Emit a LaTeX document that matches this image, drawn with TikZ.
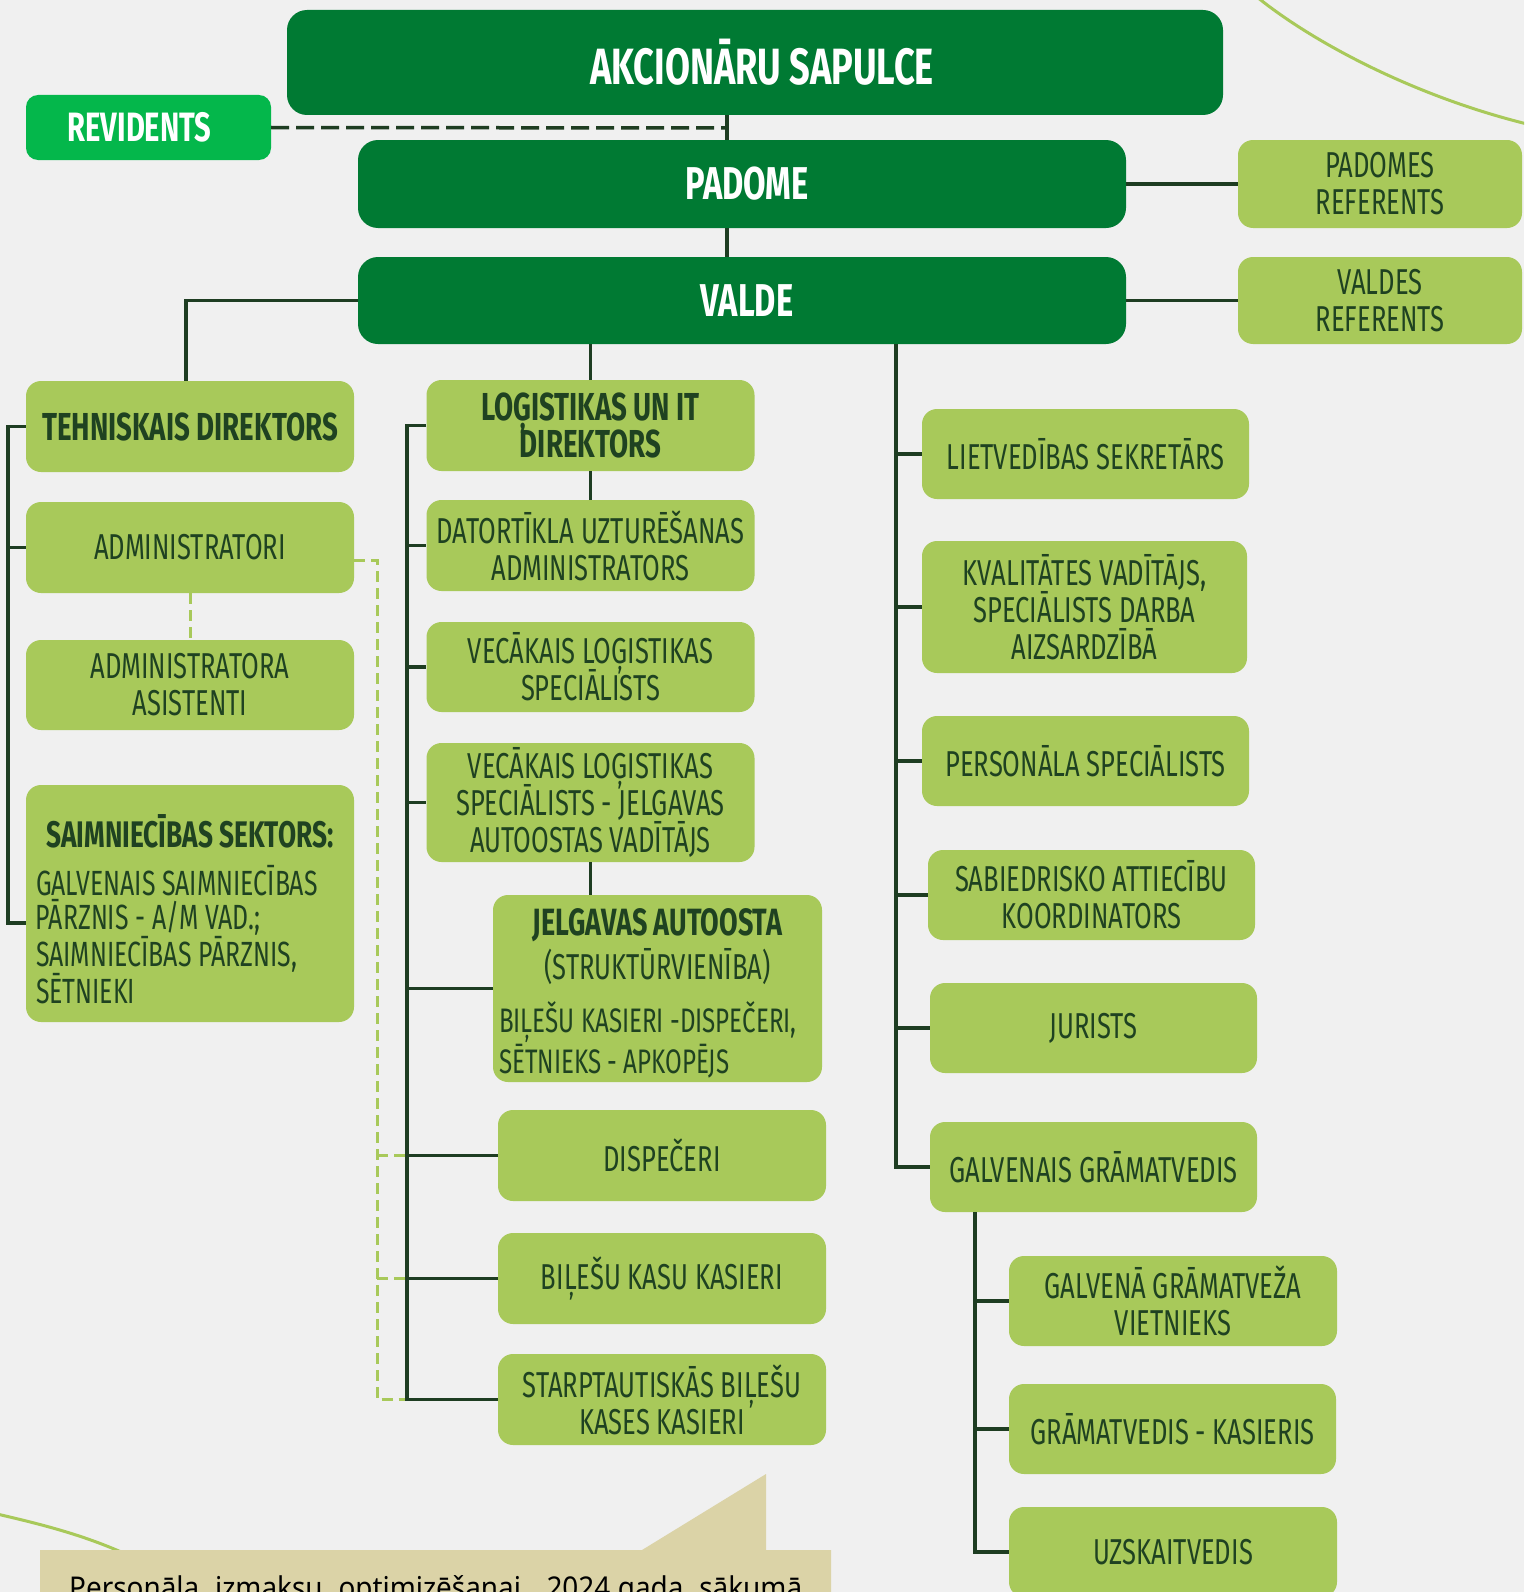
\documentclass[tikz,border=0pt]{standalone}
\usepackage{fontspec}
\usepackage{tikz}
\usetikzlibrary{positioning,calc}
\setmainfont{Fira Sans}[FakeStretch=0.71]
\newfontfamily\notefont{Noto Sans}[FakeStretch=0.93]
\definecolor{bgcol}{HTML}{F0F0F0}
\definecolor{darkgreen}{HTML}{007A33}
\definecolor{revgreen}{HTML}{04B74B}
\definecolor{lightgreen}{HTML}{A8C95A}
\definecolor{inkgreen}{HTML}{1F4221}
\definecolor{linegreen}{HTML}{1E3D22}
\definecolor{beige}{HTML}{DBD3A7}
\setlength{\lineskiplimit}{-40pt}

\begin{document}
\begin{tikzpicture}[
    x=1pt, y=-1pt,
    topbox/.style={rectangle, rounded corners=20pt, fill=darkgreen, text=white,
        font=\fontsize{46}{46}\selectfont\bfseries, inner sep=0pt},
    revbox/.style={rectangle, rounded corners=12pt, fill=revgreen, text=white,
        font=\fontsize{41}{41}\selectfont\bfseries, inner sep=0pt,
        minimum width=245pt, minimum height=65pt},
    rolebox/.style={rectangle, rounded corners=15pt, fill=lightgreen, text=inkgreen,
        font=\fontsize{36}{37}\selectfont, align=center, inner sep=0pt,
        minimum width=328pt, minimum height=90pt},
    headbox/.style={rolebox, font=\fontsize{39}{37}\selectfont\bfseries},
    link/.style={draw=linegreen, line width=3.5pt},
    dashlink/.style={draw=linegreen, line width=3.5pt, dash pattern=on 18pt off 7pt},
    softlink/.style={draw=lightgreen, line width=3pt, dash pattern=on 11pt off 6pt}
]
\useasboundingbox (0,0) rectangle (1524,1592);
\clip (0,0) rectangle (1524,1592);
\fill[bgcol] (0,0) rectangle (1524,1592);

% background decoration
\draw[lightgreen, line width=3pt] (1257,-3) .. controls (1310,40) and (1410,95) .. (1527,124);
\draw[lightgreen, line width=3pt] (-3,1514) .. controls (40,1524) and (85,1535) .. (130,1556);
\fill[beige] (40,1550) -- (642,1550) -- (766,1474) -- (766,1550) -- (831,1550)
    -- (831,1600) -- (40,1600) -- cycle;
\node[anchor=base west, inner sep=0pt, font=\notefont\fontsize{30}{30}\selectfont] (note)
    at (69,1598) {\makebox[733pt][s]{Personāla izmaksu optimizēšanai, 2024.gada sākumā}};

% top levels
\node[topbox, minimum width=936pt, minimum height=105pt,
    font=\fontsize{51}{51}\selectfont\bfseries] (sapulce) at (755,62.5) {\hspace*{14pt}AKCIONĀRU SAPULCE};
\node[revbox] (revidents) at (148.5,127.5) {\hspace*{-18pt}REVIDENTS};
\node[topbox, minimum width=768pt, minimum height=88pt] (padome) at (742,184) {\hspace*{10pt}PADOME};
\node[topbox, minimum width=768pt, minimum height=87pt] (valde) at (742,300.5) {\hspace*{10pt}VALDE};
\node[rolebox, minimum width=284pt, minimum height=88pt] (padref) at (1380,184) {PADOMES\\REFERENTS};
\node[rolebox, minimum width=284pt, minimum height=87pt] (valref) at (1380,300.5) {VALDES\\REFERENTS};

% technical column
\node[headbox, minimum height=91pt] (tehn) at (190,426.5) {TEHNISKAIS DIREKTORS};
\node[rolebox, minimum height=91pt] (admin) at (190,547.5) {ADMINISTRATORI};
\node[rolebox] (asist) at (190,685) {ADMINISTRATORA\\ASISTENTI};
\node[rolebox, minimum height=237pt, text width=308pt, align=left,
    font=\fontsize{35}{33.5}\selectfont] (saimn) at (190,903.5)
    {\spaceskip=0pt\relax
     \rule{0pt}{44pt}\makebox[308pt][c]{\fontsize{37}{37}\selectfont\bfseries SAIMNIECĪBAS SEKTORS:}\\[15pt]
     GALVENAIS SAIMNIECĪBAS\\
     PĀRZNIS - A/M VAD.;\\
     SAIMNIECĪBAS PĀRZNIS,\\
     SĒTNIEKI};

% logistics column
\node[headbox, minimum height=91pt] (logit) at (590.5,425.5) {LOĢISTIKAS UN IT\\DIREKTORS};
\node[rolebox, minimum height=91pt] (dator) at (590.5,545.5) {DATORTĪKLA UZTURĒŠANAS\\ADMINISTRATORS};
\node[rolebox] (veclog) at (590.5,667) {VECĀKAIS LOĢISTIKAS\\SPECIĀLISTS};
\node[rolebox, minimum height=119pt] (vecjelg) at (590.5,802.5)
    {VECĀKAIS LOĢISTIKAS\\SPECIĀLISTS - JELGAVAS\\AUTOOSTAS VADĪTĀJS};
\node[rolebox, minimum width=329pt, minimum height=187pt, text width=317pt, align=left,
    font=\fontsize{34}{31}\selectfont] (autoosta) at (657.5,988.5)
    {\spaceskip=0pt\relax
     \rule{0pt}{36pt}\makebox[317pt][c]{\fontsize{38}{38}\selectfont\bfseries JELGAVAS AUTOOSTA}\\[6pt]
     \makebox[317pt][c]{\fontsize{36}{36}\selectfont (STRUKTŪRVIENĪBA)}\\[16pt]
     BIĻEŠU KASIERI -DISPEČERI,\\
     SĒTNIEKS - APKOPĒJS};
\node[rolebox, minimum height=91pt] (disp) at (662,1155.5) {DISPEČERI};
\node[rolebox, minimum height=91pt] (bilkas) at (662,1278.5) {BIĻEŠU KASU KASIERI};
\node[rolebox, minimum height=91pt] (starpt) at (662,1399.5) {STARPTAUTISKĀS BIĻEŠU\\KASES KASIERI};

% staff column
\node[rolebox, minimum width=327pt] (lietv) at (1085.5,454) {LIETVEDĪBAS SEKRETĀRS};
\node[rolebox, minimum width=325pt, minimum height=132pt] (kval) at (1084.5,607)
    {KVALITĀTES VADĪTĀJS,\\SPECIĀLISTS DARBA\\AIZSARDZĪBĀ};
\node[rolebox, minimum width=327pt] (pers) at (1085.5,761) {PERSONĀLA SPECIĀLISTS};
\node[rolebox, minimum width=327pt] (sabiedr) at (1091.5,895) {SABIEDRISKO ATTIECĪBU\\KOORDINATORS};
\node[rolebox, minimum width=327pt] (jurists) at (1093.5,1028) {JURISTS};
\node[rolebox, minimum width=327pt] (galvgr) at (1093.5,1167) {GALVENAIS GRĀMATVEDIS};
\node[rolebox] (vietn) at (1173,1301) {GALVENĀ GRĀMATVEŽA\\VIETNIEKS};
\node[rolebox, minimum width=327pt] (kasieris) at (1172.5,1429) {GRĀMATVEDIS - KASIERIS};
\node[rolebox] (uzsk) at (1173,1552) {UZSKAITVEDIS};

% connectors
\coordinate (trunk) at (727,128);
\coordinate (leftbar) at (8,0);
\coordinate (softbar) at (377,0);
\coordinate (midbar) at (407,0);
\coordinate (rightbar) at (896,0);
\coordinate (subbar) at (975,0);
\coordinate (saimtick) at ([yshift=-19.5pt]saimn.west);
\coordinate (admtick) at ([yshift=-12.5pt]admin.east);

\draw[link] (sapulce.south -| trunk) -- (padome.north -| trunk);
\draw[link] (padome.south -| trunk) -- (valde.north -| trunk);
\draw[dashlink] (revidents.east) -- (trunk);
\draw[link] (padome.east) -- (padref.west);
\draw[link] (valde.east) -- (valref.west);
\draw[link] (valde.west) -| ([xshift=-4pt]tehn.north);
\draw[link] (valde.south -| logit.north) -- (logit.north);
\draw[link] (logit.south) -- (dator.north);
\draw[link] (vecjelg.south) -- (vecjelg.south |- autoosta.north);

\draw[link] (tehn.west) -- (tehn.west -| leftbar) -- (saimtick -| leftbar) -- (saimtick);
\draw[link] (admin.west -| leftbar) -- (admin.west);

\draw[softlink] (admin.south) -- (asist.north);
\draw[softlink] (admtick) -| (starpt.west -| softbar) -- (starpt.west -| midbar);
\foreach \n in {disp,bilkas}
    \draw[softlink] (\n.west -| softbar) -- (\n.west -| midbar);

\draw[link] (logit.west) -| (starpt.west -| midbar) -- (starpt.west);
\foreach \n in {dator,veclog,vecjelg,autoosta,disp,bilkas}
    \draw[link] (\n.west -| midbar) -- (\n.west);

\draw[link] (valde.south -| rightbar) |- (galvgr.west);
\foreach \n in {lietv,kval,pers,sabiedr,jurists}
    \draw[link] (\n.west -| rightbar) -- (\n.west);

\draw[link] (galvgr.south -| subbar) |- (uzsk.west);
\foreach \n in {vietn,kasieris}
    \draw[link] (\n.west -| subbar) -- (\n.west);

\end{tikzpicture}
\end{document}
